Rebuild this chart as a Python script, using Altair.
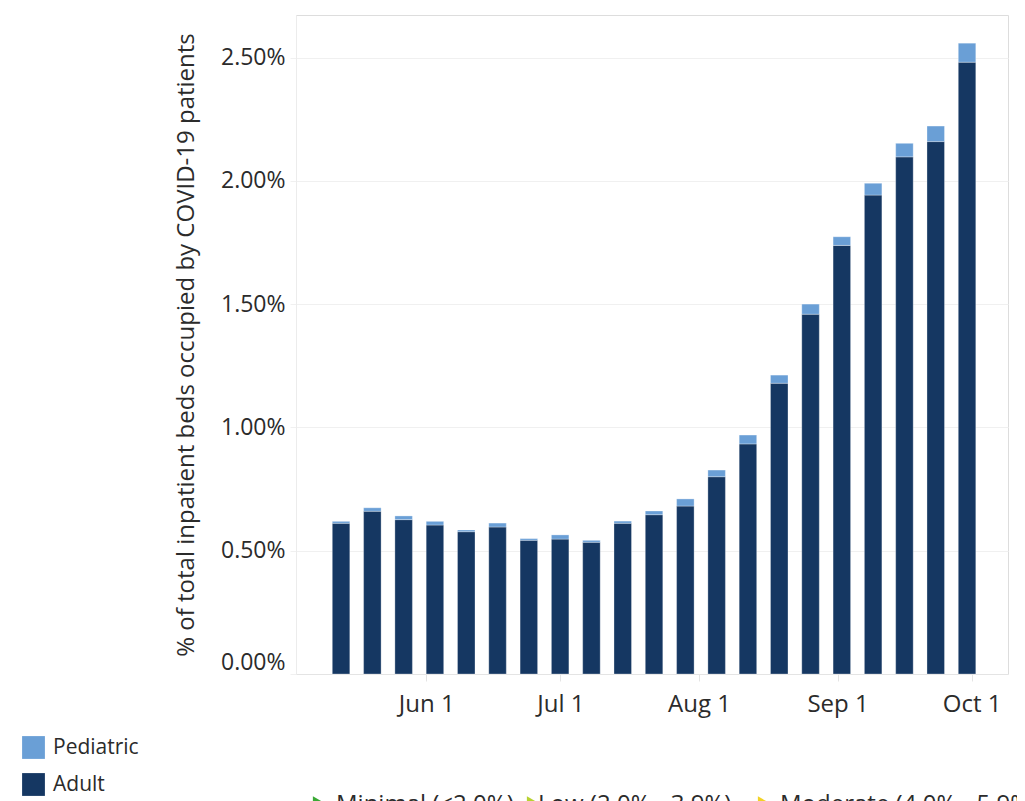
import altair as alt
import pandas as pd

# ---- data ----
weeks = ["2023-05-11", "2023-05-18", "2023-05-25", "2023-06-01", "2023-06-08",
         "2023-06-15", "2023-06-22", "2023-06-29", "2023-07-06", "2023-07-13",
         "2023-07-20", "2023-07-27", "2023-08-03", "2023-08-10", "2023-08-17",
         "2023-08-24", "2023-08-31", "2023-09-07", "2023-09-14", "2023-09-21",
         "2023-09-28"]
adult = [0.611, 0.660, 0.626, 0.604, 0.577, 0.596, 0.542, 0.547, 0.534, 0.611,
         0.646, 0.681, 0.800, 0.933, 1.179, 1.459, 1.738, 1.942, 2.097, 2.159,
         2.481]
pediatric = [0.008, 0.014, 0.015, 0.015, 0.007, 0.016, 0.007, 0.017, 0.008, 0.009,
             0.015, 0.029, 0.027, 0.036, 0.033, 0.041, 0.035, 0.048, 0.055, 0.063,
             0.077]
groups = ["Pediatric", "Adult"]
group_colors = ["#6a9fd6", "#153762"]
stack_order = {"Adult": 0, "Pediatric": 1}
y_ticks = [0, 0.5, 1.0, 1.5, 2.0, 2.5]
tick_dates = [(2023, 6, 1), (2023, 7, 1), (2023, 8, 1), (2023, 9, 1), (2023, 10, 1)]
level_labels = ["Minimal (<2.0%)", "Low (2.0% - 3.9%)", "Moderate (4.0% - 5.9%)"]
level_colors = ["#3aa935", "#b8d230", "#f2d225"]

rows = []
for w, a, p in zip(weeks, adult, pediatric):
    rows.append({"week": w + "T00:00:00Z", "group": "Adult", "value": a, "ord": stack_order["Adult"]})
    rows.append({"week": w + "T00:00:00Z", "group": "Pediatric", "value": p, "ord": stack_order["Pediatric"]})
df = pd.DataFrame(rows)

FONT = "Open Sans"
W, H = 712, 659

bars = alt.Chart(df).mark_bar(
    width=17.5, xOffset=8.75, stroke="#ffffff", strokeWidth=0.6, strokeOpacity=0.5
).encode(
    x=alt.X(
        "week:T",
        scale=alt.Scale(
            type="utc",
            domain=[alt.DateTime(year=2023, month=5, date=4, utc=True),
                    alt.DateTime(year=2023, month=10, date=8, utc=True)],
        ),
        axis=alt.Axis(
            title=None,
            values=[alt.DateTime(year=y, month=m, date=d, utc=True) for y, m, d in tick_dates],
            format="%b %-d",
            grid=False,
            domainColor="#e4e4e4",
            tickColor="#e4e4e4",
            tickSize=7,
            labelPadding=11,
            labelFont=FONT,
            labelFontSize=24,
            labelColor="#2b2b2b",
            labelAlign="center",
            labelFlush=False,
        ),
    ),
    y=alt.Y(
        "value:Q",
        stack="zero",
        scale=alt.Scale(domain=[0, H / 246.6], nice=False, zero=True),
        axis=alt.Axis(
            title="% of total inpatient beds occupied by COVID-19 patients",
            values=y_ticks,
            labelExpr="format(datum.value, '.2f') + '%'",
            labelBaseline={"condition": {"test": "datum.value == 0", "value": "bottom"}, "value": "middle"},
            grid=True,
            gridColor="#f0f0f0",
            domain=True,
            domainColor="#ececec",
            tickColor="#f0f0f0",
            tickSize=6,
            labelPadding=5,
            labelFont=FONT,
            labelFontSize=23,
            labelColor="#2b2b2b",
            titleFont=FONT,
            titleFontSize=24,
            titleFontWeight="normal",
            titleColor="#2b2b2b",
            titleX=-110,
            titleBaseline="middle",
        ),
    ),
    color=alt.Color(
        "group:N",
        scale=alt.Scale(domain=groups, range=group_colors),
        legend=alt.Legend(
            title=None,
            orient="none",
            legendX=-274,
            legendY=721,
            symbolType="square",
            symbolSize=520,
            symbolStrokeWidth=0,
            symbolOpacity=1,
            rowPadding=14,
            labelOffset=8,
            labelFont=FONT,
            labelFontSize=21,
            labelColor="#2b2b2b",
        ),
    ),
    order=alt.Order("ord:Q", sort="ascending"),
)

layers = [bars]
label_x = [40, 242, 484]
icon_x = [21, 235, 466]
for lab, lx, ix, col in zip(level_labels, label_x, icon_x, level_colors):
    one = pd.DataFrame({"label": [lab]})
    layers.append(
        alt.Chart(one).mark_text(
            align="left", baseline="alphabetic", font=FONT, fontSize=24, color="#2b2b2b"
        ).encode(x=alt.value(lx), y=alt.value(797), text="label:N")
    )
    layers.append(
        alt.Chart(one).mark_point(
            shape="triangle-right", filled=True, size=90, color=col, opacity=1
        ).encode(x=alt.value(ix), y=alt.value(786))
    )

chart = alt.layer(*layers).properties(
    width=W,
    height=H,
    autosize=alt.AutoSizeParams(type="none"),
    padding={"left": 288, "top": 7, "right": 9, "bottom": 150},
).configure_view(stroke=None).configure(background="white")

chart.save("out.html", embed_options={"renderer": "svg", "actions": False})
